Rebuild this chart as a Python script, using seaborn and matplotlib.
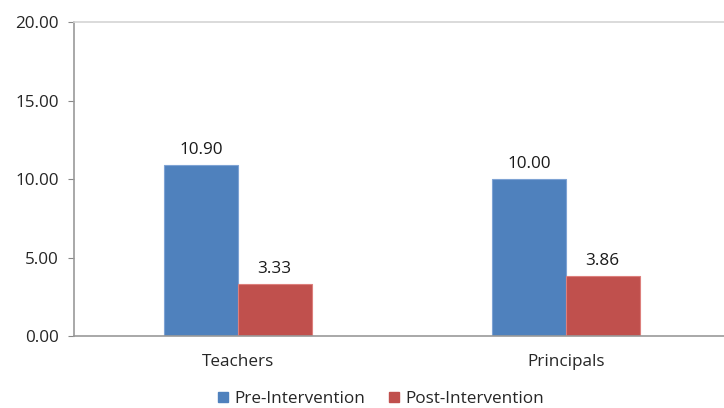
import matplotlib
matplotlib.use('Agg')
import matplotlib.pyplot as plt
import seaborn as sns
import pandas as pd
from matplotlib.lines import Line2D

# chart data
groups = ['Teachers', 'Principals']
series = ['Pre-Intervention', 'Post-Intervention']
pre_values = [10.90, 10.00]
post_values = [3.33, 3.86]
y_ticks = [0, 5, 10, 15, 20]
colors = ['#4F81BD', '#C0504D']
edge_colors = ['#7ea3d4', '#dd7f7c']

df = pd.DataFrame({
    'group': groups * 2,
    'series': [series[0]] * 2 + [series[1]] * 2,
    'value': pre_values + post_values,
})

sns.set_style('white')
plt.rcParams['font.family'] = ['Open Sans', 'DejaVu Sans']
fs = 12.3

fig = plt.figure(figsize=(7.24, 4.08), dpi=100)
# axes runs a bit past the right edge of the image, like the original crop
ax = fig.add_axes([0.102, 0.176, 0.906, 0.770])

sns.barplot(data=df, x='group', y='value', hue='series', order=groups,
            hue_order=series, palette=colors, width=0.45, gap=0,
            saturation=1, ax=ax, legend=False)

for cont, ec in zip(ax.containers, edge_colors):
    for bar in cont:
        bar.set_edgecolor(ec)
        bar.set_linewidth(0.8)
    ax.bar_label(cont, fmt='%.2f', padding=5, fontsize=fs, color='#1a1a1a')

ax.set_xlim(-0.5, 1.5)
ax.set_ylim(0, 20)
ax.set_yticks(y_ticks)
ax.set_yticklabels([f'{v:.2f}' for v in y_ticks], fontsize=fs)
ax.set_xticks([0, 1])
ax.set_xticklabels(groups, fontsize=fs)
ax.set_xlabel('')
ax.set_ylabel('')

# category separator ticks
ax.set_xticks([-0.5, 0.5, 1.5], minor=True)
ax.tick_params(axis='x', which='major', length=0, pad=13)
ax.tick_params(axis='x', which='minor', length=5, color='#888888', direction='out')
ax.tick_params(axis='y', length=4, color='#888888', direction='out', left=True, pad=7)

for side in ['left', 'bottom']:
    ax.spines[side].set_color('#999999')
    ax.spines[side].set_linewidth(1.2)
ax.spines['top'].set_color('#d4d4d4')
ax.spines['top'].set_linewidth(1.2)
ax.spines['right'].set_visible(False)

handles = [Line2D([0], [0], marker='s', linestyle='', markersize=7,
                  markerfacecolor=c, markeredgecolor=c) for c in colors]
fig.legend(handles, series, loc='center', ncol=2, frameon=False,
           fontsize=fs, bbox_to_anchor=(0.525, 0.022), handlelength=0.8,
           handletextpad=0.25, columnspacing=1.33, borderpad=0)

fig.savefig('out.png', dpi=100)
